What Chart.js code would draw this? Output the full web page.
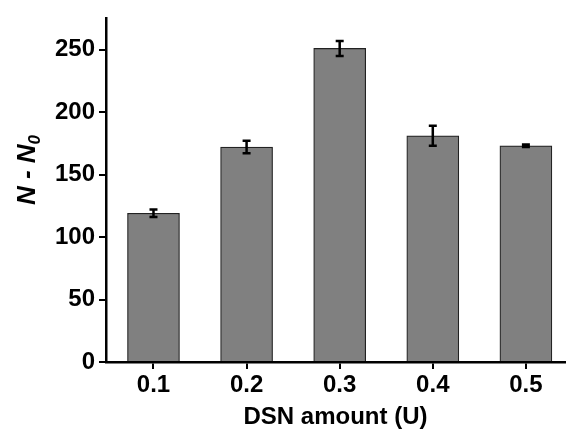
<!DOCTYPE html>
<html>
<head>
<meta charset="utf-8">
<script src="https://cdn.jsdelivr.net/npm/chart.js@4"></script>
<style>
  html, body { margin: 0; padding: 0; background: #fff; }
  #wrap { width: 566px; height: 432px; }
</style>
</head>
<body>
<div id="wrap"><canvas id="chart" width="566" height="432"></canvas></div>
<script>
// DSN amount (U) on the x axis
const amounts = [0.1, 0.2, 0.3, 0.4, 0.5];
// N - N0 for each amount
const values = [119, 172, 251, 181, 173];
// error bar half heights
const errors = [3, 5, 6, 8, 1];
const yTicks = [0, 50, 100, 150, 200, 250];

const fontFamily = "Arial, 'Liberation Sans', sans-serif";

//draws the error bars from the scales
const errorBars = {
  id: 'errorBars',
  afterDatasetsDraw(chart) {
    const ctx = chart.ctx;
    const xs = chart.scales.x, ys = chart.scales.y;
    ctx.save();
    ctx.strokeStyle = '#000';
    ctx.lineWidth = 2.5;
    amounts.forEach((a, i) => {
      const x = xs.getPixelForValue(a);
      const top = ys.getPixelForValue(values[i] + errors[i]);
      const bot = ys.getPixelForValue(values[i] - errors[i]);
      ctx.beginPath();
      ctx.moveTo(x, top); ctx.lineTo(x, bot);
      ctx.moveTo(x - 4, top); ctx.lineTo(x + 4, top);
      ctx.moveTo(x - 4, bot); ctx.lineTo(x + 4, bot);
      ctx.stroke();
    });
    ctx.restore();
  }
};

//y title with a subscript zero
const yTitle = {
  id: 'yTitle',
  afterDraw(chart) {
    const ctx = chart.ctx;
    ctx.save();
    ctx.translate(28, 170);
    ctx.rotate(-Math.PI / 2);
    ctx.fillStyle = '#000';
    ctx.textBaseline = 'middle';
    ctx.textAlign = 'left';
    const main = 'N - N';
    ctx.font = 'italic bold 26px ' + fontFamily;
    const w1 = ctx.measureText(main).width;
    ctx.font = 'italic bold 17px ' + fontFamily;
    const w2 = ctx.measureText('0').width;
    const start = -(w1 + w2) / 2;
    ctx.font = 'italic bold 26px ' + fontFamily;
    ctx.fillText(main, start, 0);
    ctx.font = 'italic bold 17px ' + fontFamily;
    ctx.fillText('0', start + w1, 7);
    ctx.restore();
  }
};

new Chart(document.getElementById('chart'), {
  type: 'bar',
  plugins: [errorBars, yTitle],
  data: {
    datasets: [{
      data: amounts.map((a, i) => ({ x: a, y: values[i] })),
      backgroundColor: '#808080',
      borderColor: '#222',
      borderWidth: 1.2,
      barThickness: 52
    }]
  },
  options: {
    responsive: false,
    animation: false,
    layout: { padding: { top: 13, right: 1, left: 0, bottom: 0 } },
    plugins: { legend: { display: false }, tooltip: { enabled: false } },
    scales: {
      x: {
        type: 'linear',
        offset: false,
        min: 0.049,
        max: 0.542,
        afterBuildTicks: (axis) => { axis.ticks = amounts.map(v => ({ value: v })); },
        afterFit: (axis) => { axis.height = 70; },
        grid: { display: true, offset: false, drawOnChartArea: false, color: '#000', lineWidth: 2, tickLength: 7 },
        border: { display: true, color: '#000', width: 2.5 },
        ticks: {
          color: '#000',
          padding: 2,
          font: { family: fontFamily, size: 24, weight: 'bold' },
          callback: (v) => v.toFixed(1)
        },
        title: {
          display: true,
          text: 'DSN amount (U)',
          color: '#000',
          padding: { top: 2, bottom: 0 },
          font: { family: fontFamily, size: 24, weight: 'bold' }
        }
      },
      y: {
        min: 0,
        max: 275,
        afterBuildTicks: (axis) => { axis.ticks = yTicks.map(v => ({ value: v })); },
        afterFit: (axis) => { axis.width = 106; },
        grid: { display: true, drawOnChartArea: false, color: '#000', lineWidth: 2, tickLength: 7 },
        border: { display: true, color: '#000', width: 2.5 },
        ticks: {
          color: '#000',
          padding: 4,
          font: { family: fontFamily, size: 24, weight: 'bold' }
        }
      }
    }
  }
});
</script>
</body>
</html>
